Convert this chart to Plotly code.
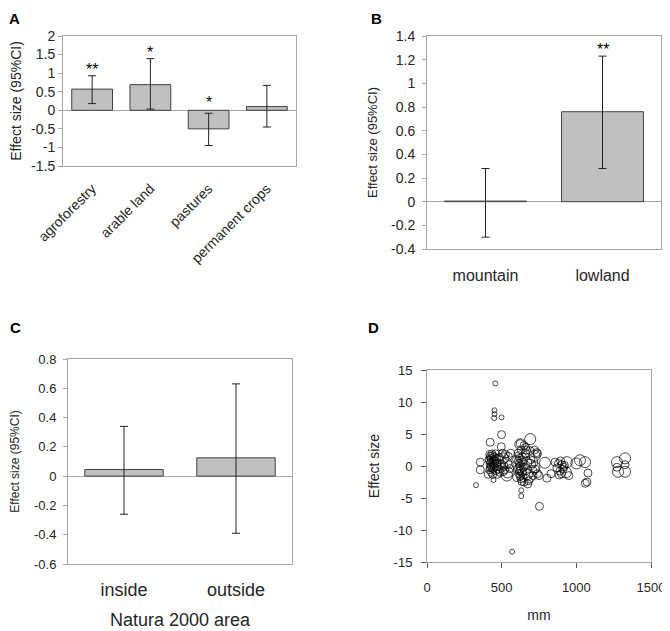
import plotly.graph_objects as go

# Panel A: land use
a_cats = ["agroforestry", "arable land", "pastures", "permanent crops"]
a_eff = [0.57, 0.69, -0.50, 0.10]
a_lo = [0.18, 0.03, -0.95, -0.45]
a_hi = [0.93, 1.39, -0.08, 0.67]
a_sig = ["**", "*", "*", ""]
a_ticks = [-1.5, -1, -0.5, 0, 0.5, 1, 1.5, 2]
a_ticklabels = ["-1.5", "-1", "-0.5", "0", "0.5", "1", "1.5", "2"]

# Panel B: altitude
b_cats = ["mountain", "lowland"]
b_eff = [0.005, 0.76]
b_lo = [-0.30, 0.28]
b_hi = [0.28, 1.23]
b_sig = ["", "**"]
b_ticks = [-0.4, -0.2, 0, 0.2, 0.4, 0.6, 0.8, 1, 1.2, 1.4]
b_ticklabels = ["-0.4", "-0.2", "0", "0.2", "0.4", "0.6", "0.8", "1", "1.2", "1.4"]

# Panel C: Natura 2000
c_cats = ["inside", "outside"]
c_eff = [0.045, 0.125]
c_lo = [-0.26, -0.39]
c_hi = [0.34, 0.63]
c_ticks = [-0.6, -0.4, -0.2, 0, 0.2, 0.4, 0.6, 0.8]
c_ticklabels = ["-0.6", "-0.4", "-0.2", "0", "0.2", "0.4", "0.6", "0.8"]

# Panel D: precipitation (mm) vs effect size, weight class 1-3
d_mm = [
    457, 452, 452, 450, 499, 499, 497, 423, 691, 624, 328, 631, 631, 753, 570, 357, 357,
    420, 425, 430, 420, 428, 422, 430, 425, 420, 432, 440, 445, 440, 445, 440, 450, 455,
    455, 450, 460, 465, 470, 468, 475, 480, 478, 485, 490, 440, 445, 410, 415, 435, 460, 470,
    500, 510, 520, 510, 530, 540, 550, 525, 545, 560, 555, 535, 505, 515,
    610, 615, 620, 612, 618, 622, 614, 620, 616, 625, 630, 635, 640, 640, 645, 638, 645,
    650, 630, 628, 632, 600, 605, 600,
    660, 665, 670, 680, 690, 700, 705, 685, 710, 695, 675, 720, 660, 665, 690, 650, 625, 660,
    720, 735, 740, 725, 740, 750, 720,
    790, 803, 830, 857, 870, 880, 890, 900, 904, 910, 920, 930, 885, 895, 915, 937, 950,
    1000, 1024, 1058, 1078, 1071, 1060,
    1272, 1326, 1272, 1326, 1279, 1326,
]
d_eff = [
    12.9, 8.7, 8.1, 7.5, 7.6, 4.9, 3.0, 3.7, 4.2, 3.5, -3.0, -3.8, -4.7, -6.3, -13.4, 0.6, -0.6,
    1.8, 1.5, 1.2, 0.9, 0.6, 0.3, 0.0, -0.3, -0.6, -1.0, 1.6, 1.0, 0.5, 0.1, -0.4, 1.4, 0.8,
    0.3, -0.2, -0.7, 1.2, 0.5, -0.1, 0.9, 0.2, -0.5, 1.3, -1.0, -1.3, -2.2, -1.3, 1.0, 1.9, 1.9, -1.3,
    0.3, 1.2, -0.6, -0.9, 0.5, -1.0, 0.2, 1.8, 1.5, 2.0, -0.4, -1.5, 2.0, 0.0,
    2.0, 1.6, 1.2, 0.8, 0.4, 0.0, -0.4, -0.8, -1.2, -1.6, -2.0, -2.4, 1.4, 0.6, -0.2, -1.0, -1.8,
    -2.5, 2.5, -0.6, 0.9, 1.0, -0.5, -1.8,
    -0.5, 0.5, -1.3, -2.3, 0.2, -0.8, 0.6, -1.8, -1.5, 1.0, -2.8, -0.2, 2.0, 2.5, 2.4, 3.2, 3.4, 2.9,
    2.5, 2.1, 1.9, -0.5, -1.2, -1.5, 1.6,
    0.5, -1.9, -1.2, 0.6, -0.3, 0.4, -0.8, -1.2, 0.2, -0.5, 0.1, -1.0, -1.4, 0.8, -0.2, 0.6, -1.5,
    0.4, 0.9, 0.6, -1.1, -2.5, -2.7,
    0.6, 1.2, -0.2, 0.2, -0.9, -0.9,
]
d_w = [
    1, 1, 1, 1, 1, 2, 2, 2, 3, 2, 1, 1, 1, 2, 1, 2, 2,
    2, 2, 2, 2, 2, 2, 2, 2, 2, 2, 2, 2, 2, 2, 2, 2, 2,
    2, 2, 2, 2, 2, 2, 3, 3, 2, 2, 2, 2, 1, 2, 2, 2, 2, 2,
    2, 3, 2, 2, 3, 3, 2, 2, 2, 2, 2, 3, 2, 2,
    2, 2, 2, 2, 2, 2, 2, 2, 2, 2, 2, 2, 2, 2, 2, 2, 2,
    2, 2, 2, 2, 2, 2, 2,
    3, 3, 3, 2, 3, 3, 3, 3, 2, 2, 2, 3, 2, 2, 2, 2, 3, 2,
    2, 2, 2, 2, 2, 2, 3,
    3, 2, 2, 2, 2, 2, 2, 2, 2, 2, 2, 3, 2, 2, 2, 3, 2,
    3, 3, 3, 2, 2, 2,
    3, 3, 2, 2, 3, 3,
]
d_xticks = [0, 500, 1000, 1500]
d_yticks = [-15, -10, -5, 0, 5, 10, 15]
d_yticklabels = ["-15", "-10", "-5", "0", "5", "10", "15"]

FONT = "Liberation Sans, Arial, sans-serif"
GREY = "#a6a6a6"
TXT = "#262626"

# page body has an 8px margin, so the figure is a bit smaller and offset
OFF = 8
W, H = 670 - OFF, 631 - OFF


def fx(px):
    return (px - OFF) / W


def fy(py):
    return 1 - (py - OFF) / H


fig = go.Figure()


def bar_trace(cats, eff, lo, hi, xa, ya):
    return go.Bar(
        x=cats, y=eff, xaxis=xa, yaxis=ya, width=0.7,
        marker=dict(color="#c0c0c0", line=dict(color="#404040", width=1)),
        error_y=dict(type="data", symmetric=False,
                     array=[h - e for h, e in zip(hi, eff)],
                     arrayminus=[e - l for e, l in zip(eff, lo)],
                     color="#222222", thickness=1, width=4),
        showlegend=False,
    )


fig.add_trace(bar_trace(a_cats, a_eff, a_lo, a_hi, "x", "y"))
fig.add_trace(bar_trace(b_cats, b_eff, b_lo, b_hi, "x2", "y2"))
fig.add_trace(bar_trace(c_cats, c_eff, c_lo, c_hi, "x3", "y3"))

fig.add_trace(go.Scatter(
    x=d_mm, y=d_eff, xaxis="x4", yaxis="y4", mode="markers",
    marker=dict(symbol="circle-open", color="black",
                size=[{1: 5, 2: 8, 3: 11}[w] for w in d_w],
                line=dict(width=1)),
    showlegend=False,
))

# significance stars
for cat, h, s in zip(a_cats, a_hi, a_sig):
    if s:
        fig.add_annotation(x=cat, y=h, xref="x", yref="y", text=s, showarrow=False,
                           yanchor="bottom", yshift=0 if h < 0 else -4,
                           font=dict(size=16, color="black"))
for cat, h, s in zip(b_cats, b_hi, b_sig):
    if s:
        fig.add_annotation(x=cat, y=h, xref="x2", yref="y2", text=s, showarrow=False,
                           yanchor="bottom", yshift=-4, font=dict(size=16, color="black"))

# panel letters (top row pinned to the top edge so they are not clipped)
for letter, px, py in [("A", 14, 12), ("B", 376, 12), ("C", 15, 328), ("D", 374, 328)]:
    top = py < 50
    fig.add_annotation(x=fx(px), y=1 if top else fy(py), xref="paper", yref="paper",
                       text="<b>%s</b>" % letter, showarrow=False, xanchor="center",
                       yanchor="top" if top else "middle",
                       font=dict(size=15, color="black"))

box = dict(showline=True, linecolor=GREY, linewidth=1, mirror=True, showgrid=False,
           zeroline=False, automargin=False, tickfont=dict(size=14, color=TXT))
ybox = dict(box, zeroline=True, zerolinecolor=GREY, zerolinewidth=1,
            ticks="outside", ticklen=4, tickcolor=GREY)


def ttl(text, size, standoff):
    return dict(text=text, font=dict(size=size, color=TXT), standoff=standoff)


fig.update_layout(
    width=W, height=H, margin=dict(l=0, r=0, t=0, b=0),
    plot_bgcolor="white", paper_bgcolor="white",
    font=dict(family=FONT, color=TXT),
    bargap=0.3,
    xaxis=dict(box, domain=[fx(63), fx(296)], anchor="y", tickangle=-45, ticks="",
               ticklabelstandoff=8),
    yaxis=dict(ybox, domain=[fy(166), fy(36)], anchor="x", range=[-1.5, 2],
               tickvals=a_ticks, ticktext=a_ticklabels,
               title=ttl("Effect size (95%CI)", 14, 6)),
    xaxis2=dict(box, domain=[fx(427), fx(661)], anchor="y2", ticks="",
                tickfont=dict(size=16, color=TXT), ticklabelstandoff=12),
    yaxis2=dict(ybox, domain=[fy(249), fy(36)], anchor="x2", range=[-0.4, 1.4],
                tickvals=b_ticks, ticktext=b_ticklabels, ticklabelstandoff=4,
                title=ttl("Effect size (95%CI)", 13, 10)),
    xaxis3=dict(box, domain=[fx(68), fx(292)], anchor="y3", ticks="",
                tickfont=dict(size=18, color=TXT), ticklabelstandoff=9,
                title=ttl("Natura 2000 area", 18, 14)),
    yaxis3=dict(ybox, domain=[fy(564), fy(359)], anchor="x3", range=[-0.6, 0.8],
                tickvals=c_ticks, ticktext=c_ticklabels, tickfont=dict(size=13, color=TXT),
                ticklabelstandoff=4,
                title=ttl("Effect size (95%CI)", 12, 14)),
    xaxis4=dict(box, domain=[fx(427), fx(651)], anchor="y4", range=[0, 1500],
                tickvals=d_xticks, tickfont=dict(size=13, color=TXT),
                ticks="outside", ticklen=5, tickcolor="#555", ticklabelstandoff=8,
                title=ttl("mm", 14, 16)),
    yaxis4=dict(box, domain=[fy(562), fy(370)], anchor="x4", range=[-15, 15],
                tickvals=d_yticks, ticktext=d_yticklabels, tickfont=dict(size=13, color=TXT),
                ticks="outside", ticklen=5, tickcolor="#555", ticklabelstandoff=6,
                title=ttl("Effect size", 14, 10)),
)

fig.write_html("out.html")
